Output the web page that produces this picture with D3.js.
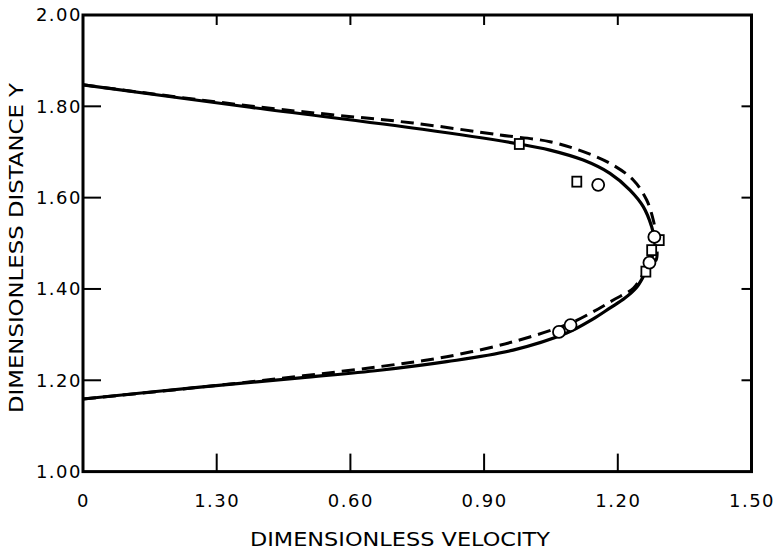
<!DOCTYPE html>
<html>
<head>
<meta charset="utf-8">
<script src="https://cdn.jsdelivr.net/npm/d3@7"></script>
<style>
  html, body { margin: 0; padding: 0; background: #fff; }
  svg { display: block; }
  text { font-family: "DejaVu Sans", sans-serif; fill: #000; }
</style>
</head>
<body>
<svg id="chart" width="780" height="550"></svg>
<script>
// Velocity profile across the channel: solid = theory, dashed = alternate model
const solidX = [0, 0.3747, 0.7616, 0.979, 1.0478, 1.1225, 1.1824, 1.2273, 1.2571, 1.276, 1.2811, 1.2834, 1.2744, 1.2566, 1.241, 1.216, 1.182, 1.144, 1.0853, 0.965, 0.816, 0.666, 0.487, 0.2625, 0];
const solidY = [1.847, 1.798, 1.7497, 1.7175, 1.7041, 1.6822, 1.6531, 1.6165, 1.5802, 1.5364, 1.5145, 1.4963, 1.4634, 1.426, 1.402, 1.380, 1.358, 1.334, 1.3034, 1.266, 1.2407, 1.222, 1.2054, 1.185, 1.159];

const dashX = [0, 0.3747, 0.5544, 0.7407, 0.9356, 1.0478, 1.1225, 1.1824, 1.2347, 1.2648, 1.2796, 1.2834, 1.2856, 1.2723, 1.2534, 1.2347, 1.190, 1.145, 1.0927, 0.9655, 0.816, 0.666, 0.487, 0.2925, 0];
const dashY = [1.847, 1.8007, 1.782, 1.7634, 1.7372, 1.7225, 1.7006, 1.6752, 1.6386, 1.5948, 1.5510, 1.5291, 1.4628, 1.4590, 1.4268, 1.4014, 1.3758, 1.3502, 1.3248, 1.2845, 1.2516, 1.230, 1.209, 1.188, 1.159];

// Measured points
const squareX = [0.979, 1.108, 1.293, 1.276, 1.263];
const squareY = [1.7175, 1.635, 1.507, 1.485, 1.438];
const circleX = [1.156, 1.282, 1.271, 1.068, 1.094];
const circleY = [1.628, 1.514, 1.4575, 1.306, 1.321];

// Axis ticks and their printed labels
const xTicks = [0, 0.3, 0.6, 0.9, 1.2, 1.5];
const xTickLabels = ["0", "1.30", "0.60", "0.90", "1.20", "1.50"];
const yTicks = [1.0, 1.2, 1.4, 1.6, 1.8, 2.0];
const yTickLabels = ["1.00", "1.20", "1.40", "1.60", "1.80", "2.00"];

const xTitle = "DIMENSIONLESS VELOCITY";
const yTitle = "DIMENSIONLESS DISTANCE Y";

const svg = d3.select("#chart");
const plotLeft = 83, plotRight = 751.5, plotTop = 15, plotBottom = 471.6;

const x = d3.scaleLinear().domain([0, 1.5]).range([plotLeft, plotRight]);
const y = d3.scaleLinear().domain([1.0, 2.0]).range([plotBottom, plotTop]);

// Tick labels from the axis generators
const gx = svg.append("g").attr("transform", `translate(0,${plotBottom})`)
  .call(d3.axisBottom(x).tickValues(xTicks).tickSize(0).tickPadding(23)
    .tickFormat((d, i) => xTickLabels[i]));
const gy = svg.append("g").attr("transform", `translate(${plotLeft},0)`)
  .call(d3.axisLeft(y).tickValues(yTicks).tickSize(0).tickPadding(1)
    .tickFormat((d, i) => yTickLabels[i]));
[gx, gy].forEach(g => {
  g.select(".domain").remove();
  g.selectAll(".tick line").remove();
  g.selectAll(".tick text").attr("font-size", 18).attr("letter-spacing", 1.5)
    .attr("font-family", "DejaVu Sans").attr("fill", "#000");
});

// Inward tick marks: long on bottom/left, short on top/right
const inner = xTicks.slice(1, -1);
const innerY = yTicks.slice(1, -1);
const ticks = svg.append("g").attr("stroke", "#000").attr("stroke-width", 2);
ticks.selectAll("line.xb").data(inner).join("line").attr("class", "xb")
  .attr("x1", d => x(d)).attr("x2", d => x(d))
  .attr("y1", plotBottom).attr("y2", plotBottom - 18);
ticks.selectAll("line.xt").data(inner).join("line").attr("class", "xt")
  .attr("x1", d => x(d)).attr("x2", d => x(d))
  .attr("y1", plotTop).attr("y2", plotTop + 10);
ticks.selectAll("line.yl").data(innerY).join("line").attr("class", "yl")
  .attr("y1", d => y(d)).attr("y2", d => y(d))
  .attr("x1", plotLeft).attr("x2", plotLeft + 18);
ticks.selectAll("line.yr").data(innerY).join("line").attr("class", "yr")
  .attr("y1", d => y(d)).attr("y2", d => y(d))
  .attr("x1", plotRight).attr("x2", plotRight - 10);

// Frame
svg.append("rect")
  .attr("x", x(0)).attr("y", y(2.0))
  .attr("width", x(1.5) - x(0)).attr("height", y(1.0) - y(2.0))
  .attr("fill", "none").attr("stroke", "#000").attr("stroke-width", 3);

// Curves
const line = d3.line().x(d => x(d[0])).y(d => y(d[1])).curve(d3.curveCatmullRom.alpha(0.5));
const solid = solidX.map((v, i) => [v, solidY[i]]);
const dashed = dashX.map((v, i) => [v, dashY[i]]);

svg.append("path").attr("d", line(dashed))
  .attr("fill", "none").attr("stroke", "#000").attr("stroke-width", 3)
  .attr("stroke-dasharray", "13,7");
svg.append("path").attr("d", line(solid))
  .attr("fill", "none").attr("stroke", "#000").attr("stroke-width", 3.2);

// Markers
svg.selectAll("rect.sq").data(squareX.map((v, i) => [v, squareY[i]])).join("rect")
  .attr("class", "sq")
  .attr("x", d => x(d[0]) - 4.5).attr("y", d => y(d[1]) - 5)
  .attr("width", 9).attr("height", 10)
  .attr("fill", "#fff").attr("stroke", "#000").attr("stroke-width", 1.8);
svg.selectAll("circle.ci").data(circleX.map((v, i) => [v, circleY[i]])).join("circle")
  .attr("class", "ci")
  .attr("cx", d => x(d[0])).attr("cy", d => y(d[1])).attr("r", 6)
  .attr("fill", "#fff").attr("stroke", "#000").attr("stroke-width", 1.8);

// Axis titles
svg.append("text").attr("x", 400).attr("y", 546)
  .attr("text-anchor", "middle").attr("font-size", 20)
  .attr("textLength", 300).attr("lengthAdjust", "spacingAndGlyphs")
  .text(xTitle);
svg.append("text").attr("transform", "translate(23,248) rotate(-90)")
  .attr("text-anchor", "middle").attr("font-size", 20)
  .attr("textLength", 330).attr("lengthAdjust", "spacingAndGlyphs")
  .text(yTitle);
</script>
</body>
</html>
